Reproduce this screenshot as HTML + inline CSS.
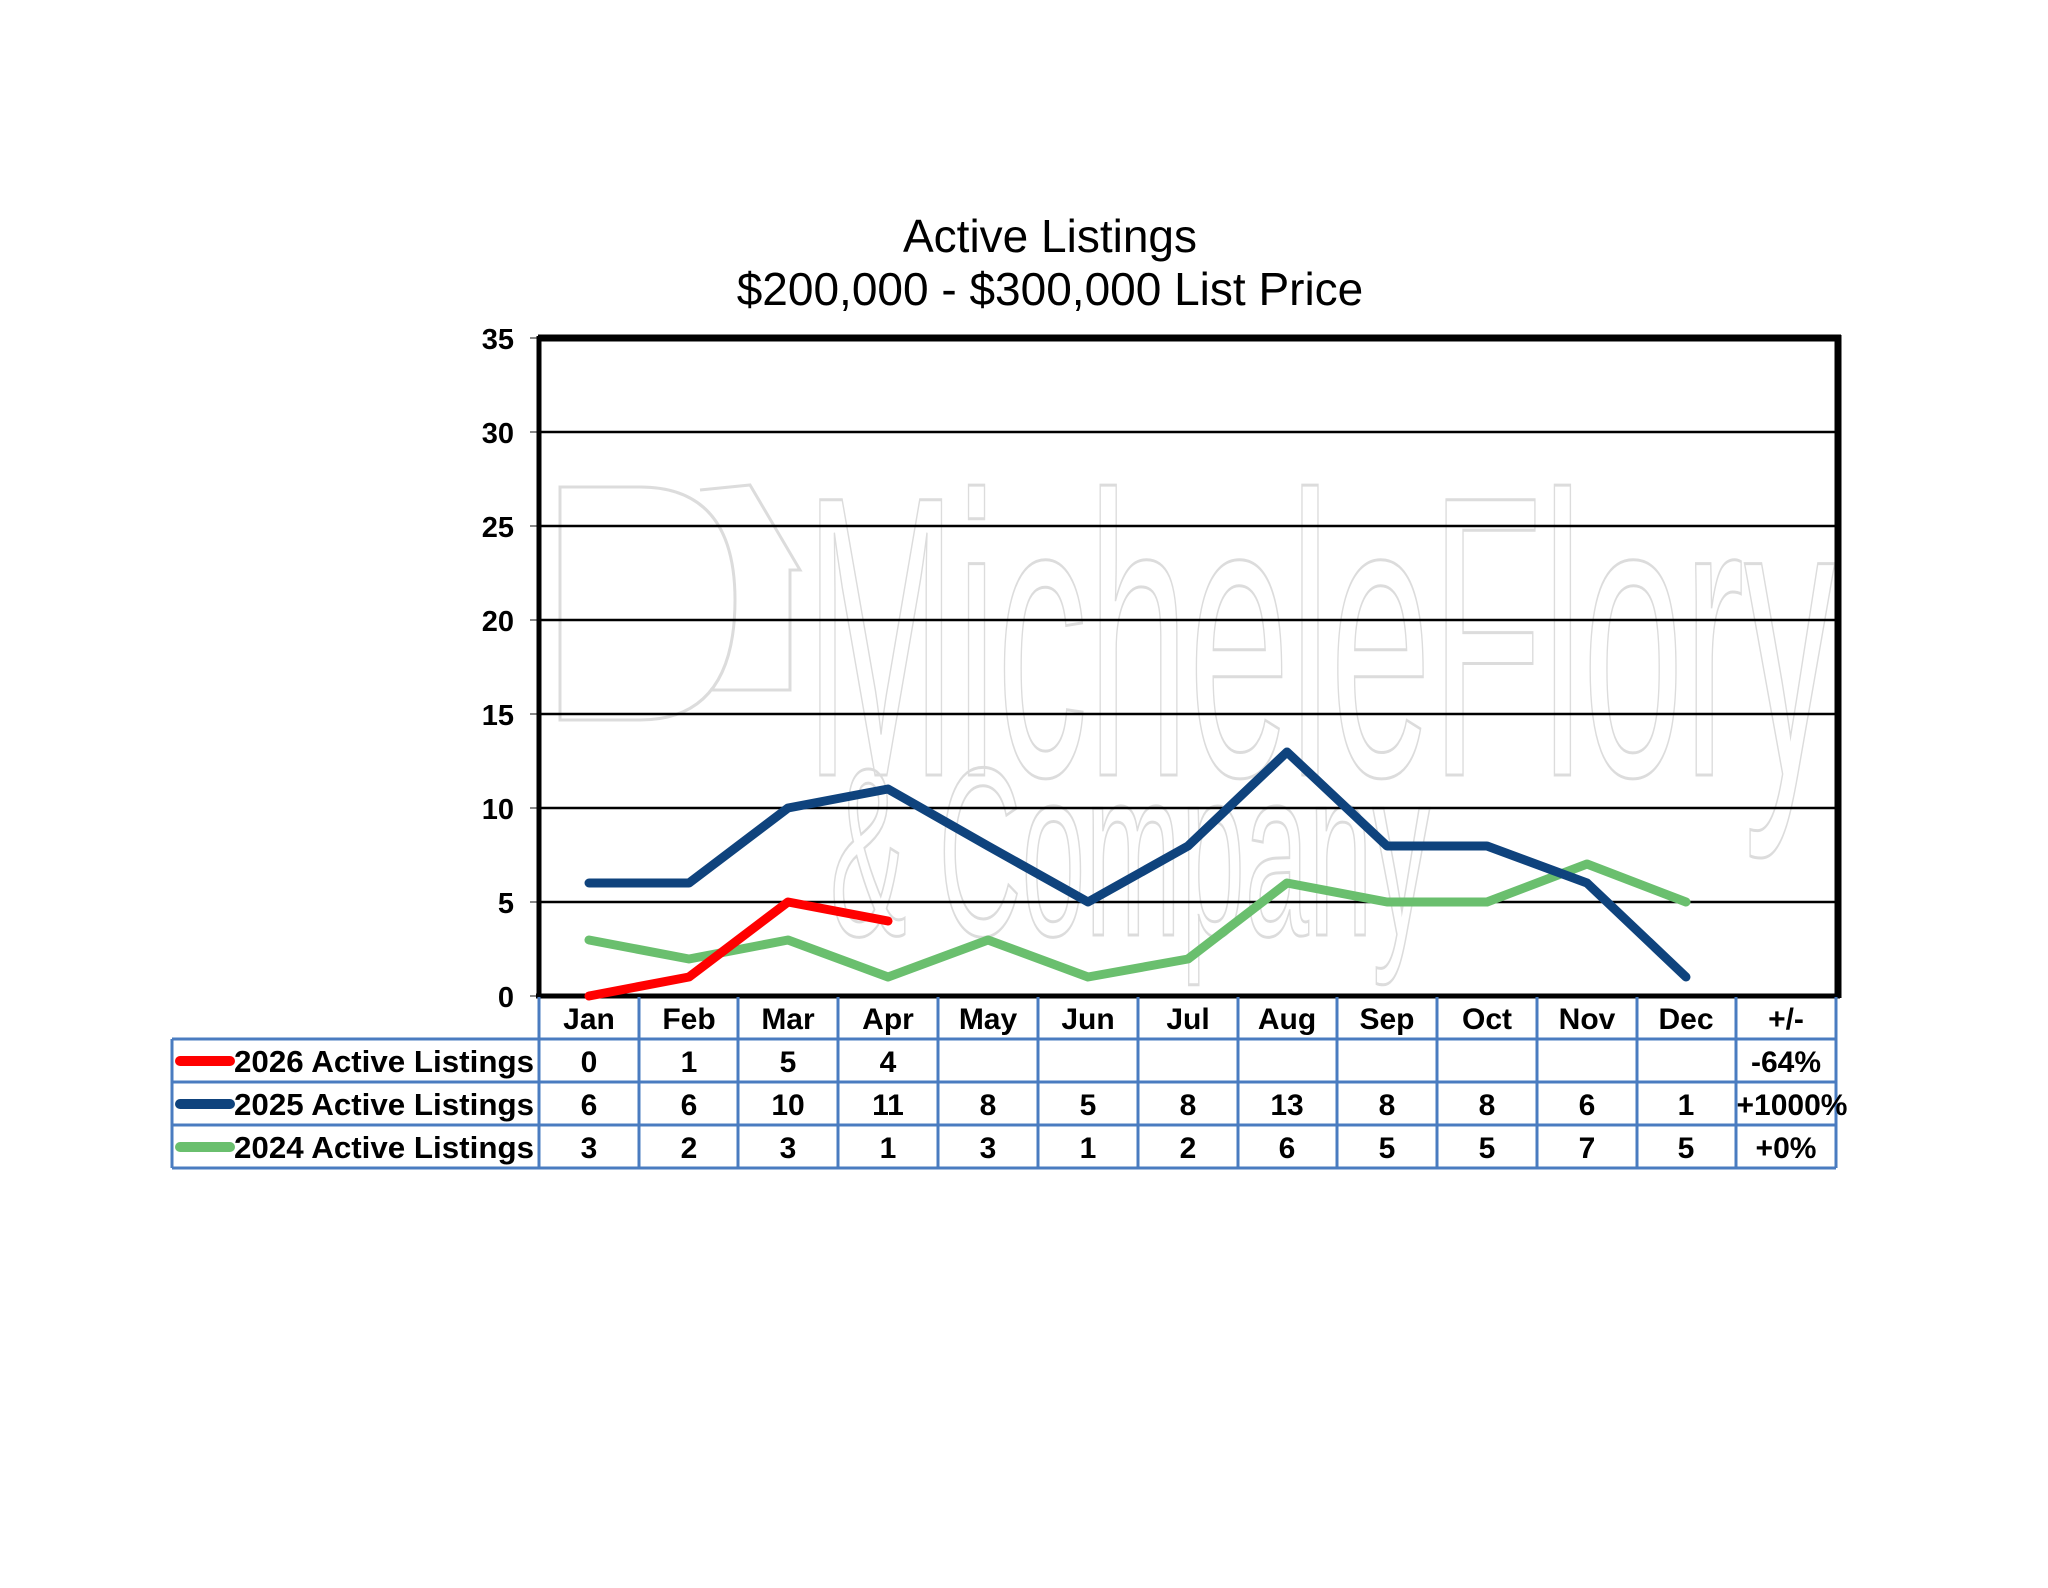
<!DOCTYPE html>
<html><head><meta charset="utf-8"><style>
html,body{margin:0;padding:0;background:#fff;}
</style></head><body>
<svg width="2048" height="1583" viewBox="0 0 2048 1583" xmlns="http://www.w3.org/2000/svg" font-family="Liberation Sans, Arial, sans-serif">
<rect width="2048" height="1583" fill="#fff"/>
<g fill="none" stroke="#dcdcdc" stroke-width="3">
<text x="805" y="775" font-size="400" textLength="1030" lengthAdjust="spacingAndGlyphs">MicheleFlory</text>
<text x="830" y="935" font-size="240" textLength="600" lengthAdjust="spacingAndGlyphs">&amp; Company</text>
<path d="M560 720 L560 487 L640 487 Q735 487 735 600 Q735 720 640 720 Z"/>
<path d="M700 490 L750 485 L800 570 L790 570 L790 690 L710 690"/>
</g>
<text x="1050" y="252" font-size="46" text-anchor="middle">Active Listings</text>
<text x="1050" y="305" font-size="46" text-anchor="middle">$200,000 - $300,000 List Price</text>
<g stroke="#000" stroke-width="2.5">
<line x1="538" y1="432" x2="1837" y2="432"/>
<line x1="538" y1="526" x2="1837" y2="526"/>
<line x1="538" y1="620" x2="1837" y2="620"/>
<line x1="538" y1="714" x2="1837" y2="714"/>
<line x1="538" y1="808" x2="1837" y2="808"/>
<line x1="538" y1="902" x2="1837" y2="902"/>
</g>
<g stroke="#888" stroke-width="2">
<line x1="530" y1="338" x2="538" y2="338"/><line x1="530" y1="432" x2="538" y2="432"/>
<line x1="530" y1="526" x2="538" y2="526"/><line x1="530" y1="620" x2="538" y2="620"/>
<line x1="530" y1="714" x2="538" y2="714"/><line x1="530" y1="808" x2="538" y2="808"/>
<line x1="530" y1="902" x2="538" y2="902"/><line x1="530" y1="996" x2="538" y2="996"/>
</g>
<line x1="538" y1="338" x2="1841" y2="338" stroke="#000" stroke-width="7"/>
<line x1="1838" y1="335" x2="1838" y2="998" stroke="#000" stroke-width="7"/>
<line x1="539" y1="336" x2="539" y2="998" stroke="#000" stroke-width="5"/>
<line x1="536" y1="996" x2="1840" y2="996" stroke="#000" stroke-width="5"/>
<g font-size="29" font-weight="bold" text-anchor="end">
<text x="514" y="349">35</text><text x="514" y="443">30</text><text x="514" y="537">25</text>
<text x="514" y="631">20</text><text x="514" y="725">15</text><text x="514" y="819">10</text>
<text x="514" y="913">5</text><text x="514" y="1007">0</text>
</g>
<g fill="none" stroke-width="9" stroke-linecap="round" stroke-linejoin="round">
<polyline stroke="#6abf6e" points="589,940 689,959 788,940 888,977 988,940 1088,977 1188,959 1287,883 1387,902 1487,902 1587,864 1686,902"/>
<polyline stroke="#0f437d" points="589,883 689,883 788,808 888,789 988,846 1088,902 1188,846 1287,752 1387,846 1487,846 1587,883 1686,977"/>
<polyline stroke="#f00" points="589,996 689,977 788,902 888,921"/>
</g>
<g stroke="#4a7cc0" stroke-width="3" fill="none">
<line x1="539" y1="997" x2="539" y2="1168"/>
<line x1="172" y1="1039" x2="1836" y2="1039"/>
<line x1="172" y1="1082" x2="1836" y2="1082"/>
<line x1="172" y1="1125" x2="1836" y2="1125"/>
<line x1="172" y1="1168" x2="1836" y2="1168"/>
<line x1="172" y1="1039" x2="172" y2="1168"/>
<line x1="1836" y1="997" x2="1836" y2="1168"/>
<line x1="639" y1="997" x2="639" y2="1168"/><line x1="738" y1="997" x2="738" y2="1168"/>
<line x1="838" y1="997" x2="838" y2="1168"/><line x1="938" y1="997" x2="938" y2="1168"/>
<line x1="1038" y1="997" x2="1038" y2="1168"/><line x1="1138" y1="997" x2="1138" y2="1168"/>
<line x1="1238" y1="997" x2="1238" y2="1168"/><line x1="1337" y1="997" x2="1337" y2="1168"/>
<line x1="1437" y1="997" x2="1437" y2="1168"/><line x1="1537" y1="997" x2="1537" y2="1168"/>
<line x1="1637" y1="997" x2="1637" y2="1168"/><line x1="1736" y1="997" x2="1736" y2="1168"/>
</g>
<g stroke-width="10" stroke-linecap="round">
<line x1="180" y1="1061" x2="230" y2="1061" stroke="#f00"/>
<line x1="180" y1="1104" x2="230" y2="1104" stroke="#0f437d"/>
<line x1="180" y1="1147" x2="230" y2="1147" stroke="#6abf6e"/>
</g>
<g font-size="31" font-weight="bold">
<text x="234" y="1072" textLength="300" lengthAdjust="spacingAndGlyphs">2026 Active Listings</text>
<text x="234" y="1115" textLength="300" lengthAdjust="spacingAndGlyphs">2025 Active Listings</text>
<text x="234" y="1158" textLength="300" lengthAdjust="spacingAndGlyphs">2024 Active Listings</text>
</g>
<g font-size="30" font-weight="bold" text-anchor="middle">
<text x="589" y="1029">Jan</text><text x="689" y="1029">Feb</text><text x="788" y="1029">Mar</text>
<text x="888" y="1029">Apr</text><text x="988" y="1029">May</text><text x="1088" y="1029">Jun</text>
<text x="1188" y="1029">Jul</text><text x="1287" y="1029">Aug</text><text x="1387" y="1029">Sep</text>
<text x="1487" y="1029">Oct</text><text x="1587" y="1029">Nov</text><text x="1686" y="1029">Dec</text>
<text x="1786" y="1029">+/-</text>
<text x="589" y="1072">0</text><text x="689" y="1072">1</text><text x="788" y="1072">5</text><text x="888" y="1072">4</text>
<text x="1786" y="1072">-64%</text>
<text x="589" y="1115">6</text><text x="689" y="1115">6</text><text x="788" y="1115">10</text><text x="888" y="1115">11</text>
<text x="988" y="1115">8</text><text x="1088" y="1115">5</text><text x="1188" y="1115">8</text><text x="1287" y="1115">13</text>
<text x="1387" y="1115">8</text><text x="1487" y="1115">8</text><text x="1587" y="1115">6</text><text x="1686" y="1115">1</text>
<text x="1792" y="1115">+1000%</text>
<text x="589" y="1158">3</text><text x="689" y="1158">2</text><text x="788" y="1158">3</text><text x="888" y="1158">1</text>
<text x="988" y="1158">3</text><text x="1088" y="1158">1</text><text x="1188" y="1158">2</text><text x="1287" y="1158">6</text>
<text x="1387" y="1158">5</text><text x="1487" y="1158">5</text><text x="1587" y="1158">7</text><text x="1686" y="1158">5</text>
<text x="1786" y="1158">+0%</text>
</g>
</svg>
</body></html>
